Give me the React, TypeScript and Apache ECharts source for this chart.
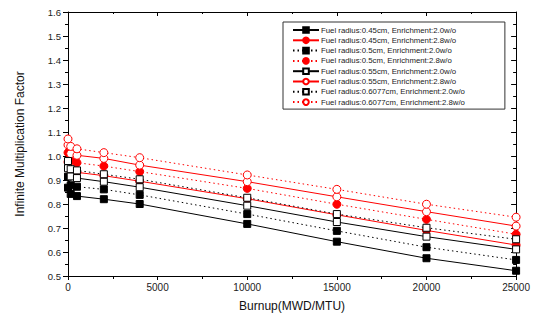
import React, { useEffect, useRef } from "react";
import * as echarts from "echarts";

const burnup = [0, 150, 500, 2000, 4000, 10000, 15000, 20000, 25000];
const seriesNames = [
  "Fuel radius:0.45cm, Enrichment:2.0w/o",
  "Fuel radius:0.45cm, Enrichment:2.8w/o",
  "Fuel radius:0.5cm, Enrichment:2.0w/o",
  "Fuel radius:0.5cm, Enrichment:2.8w/o",
  "Fuel radius:0.55cm, Enrichment:2.0w/o",
  "Fuel radius:0.55cm, Enrichment:2.8w/o",
  "Fuel radius:0.6077cm, Enrichment:2.0w/o",
  "Fuel radius:0.6077cm, Enrichment:2.8w/o",
];
const r045e20 = [0.868, 0.842, 0.833, 0.82, 0.8, 0.717, 0.643, 0.574, 0.522];
const r045e28 = [0.975, 0.94, 0.932, 0.918, 0.895, 0.822, 0.755, 0.69, 0.629];
const r050e20 = [0.914, 0.878, 0.872, 0.861, 0.838, 0.758, 0.688, 0.62, 0.567];
const r050e28 = [1.014, 0.98, 0.972, 0.958, 0.935, 0.865, 0.799, 0.736, 0.674];
const r055e20 = [0.949, 0.915, 0.908, 0.893, 0.87, 0.793, 0.725, 0.664, 0.611];
const r055e28 = [1.046, 1.01, 1.003, 0.99, 0.962, 0.893, 0.83, 0.768, 0.708];
const r061e20 = [0.979, 0.945, 0.94, 0.924, 0.903, 0.826, 0.758, 0.701, 0.653];
const r061e28 = [1.071, 1.04, 1.03, 1.014, 0.993, 0.921, 0.861, 0.799, 0.745];
const xTicks = [0, 5000, 10000, 15000, 20000, 25000];
const yMin = 0.5;
const yMax = 1.6;

const FONT = "Liberation Sans, Arial, sans-serif";

export default function App() {
  const ref = useRef<HTMLDivElement>(null);
  useEffect(() => {
    if (!ref.current) return;
    const chart = echarts.init(ref.current, undefined, { renderer: "svg" });
    const values = [r045e20, r045e28, r050e20, r050e28, r055e20, r055e28, r061e20, r061e28];
    const styles = [
      { color: "#000", type: "solid", symbol: "rect", fill: "#000", size: 7 },
      { color: "#ff0000", type: "solid", symbol: "circle", fill: "#ff0000", size: 8 },
      { color: "#000", type: [1.5, 3], symbol: "rect", fill: "#000", size: 7 },
      { color: "#ff0000", type: [1.5, 3], symbol: "circle", fill: "#ff0000", size: 8 },
      { color: "#000", type: "solid", symbol: "rect", fill: "#fff", size: 7 },
      { color: "#ff0000", type: "solid", symbol: "circle", fill: "#fff", size: 8 },
      { color: "#000", type: [1.5, 3], symbol: "rect", fill: "#fff", size: 7 },
      { color: "#ff0000", type: [1.5, 3], symbol: "circle", fill: "#fff", size: 8 },
    ];
    const series = values.map((v, i) => {
      const s = styles[i];
      return {
        name: seriesNames[i],
        type: "line",
        data: burnup.map((b, j) => [b, v[j]]),
        symbol: s.symbol,
        symbolSize: s.size,
        showAllSymbol: true,
        lineStyle: { color: s.color, width: 1, type: s.type },
        itemStyle: { color: s.fill, borderColor: s.color, borderWidth: 1 },
        emphasis: { disabled: true },
        z: 2 + i,
      };
    });
    chart.setOption({
      animation: false,
      textStyle: { fontFamily: FONT },
      grid: { left: 68, right: 15, top: 12, bottom: 51 },
      legend: {
        orient: "vertical",
        left: 283,
        top: 22,
        width: 221,
        padding: [4, 40, 3, 9],
        itemWidth: 26,
        itemHeight: 7,
        itemGap: 2.3,
        backgroundColor: "#fff",
        borderColor: "#333",
        borderWidth: 1,
        textStyle: { fontSize: 7.8, color: "#222", fontFamily: FONT, padding: [0, 0, 0, -3] },
        data: seriesNames,
      },
      xAxis: [
        {
          type: "value",
          min: 0,
          max: 25000,
          interval: 5000,
          name: "Burnup(MWD/MTU)",
          nameLocation: "middle",
          nameGap: 24,
          nameTextStyle: { fontSize: 12, color: "#111", fontFamily: FONT },
          axisLine: { show: true, lineStyle: { color: "#000", width: 1 } },
          axisTick: { show: true, inside: false, length: 4, lineStyle: { color: "#000" } },
          minorTick: { show: true, splitNumber: 2, length: 3, lineStyle: { color: "#000" } },
          axisLabel: {
            fontSize: 10,
            color: "#222",
            margin: 6,
            formatter: (v: number) => (xTicks.includes(v) ? String(v) : ""),
          },
          splitLine: { show: false },
        },
        {
          type: "value",
          position: "top",
          min: 0,
          max: 25000,
          interval: 5000,
          axisLine: { show: true, onZero: false, lineStyle: { color: "#000", width: 1 } },
          axisTick: { show: true, inside: true, length: 4, lineStyle: { color: "#000" } },
          minorTick: { show: true, splitNumber: 2, length: 2, lineStyle: { color: "#000" } },
          axisLabel: { show: false },
          splitLine: { show: false },
        },
      ],
      yAxis: [
        {
          type: "value",
          min: yMin,
          max: yMax,
          interval: 0.1,
          name: "Infinite Multiplication Factor",
          nameLocation: "middle",
          nameGap: 42,
          nameTextStyle: { fontSize: 12, color: "#111", fontFamily: FONT },
          axisLine: { show: true, lineStyle: { color: "#000", width: 1 } },
          axisTick: { show: true, inside: false, length: 5, lineStyle: { color: "#000" } },
          minorTick: { show: true, splitNumber: 2, length: 3, lineStyle: { color: "#000" } },
          axisLabel: {
            fontSize: 9.5,
            color: "#222",
            margin: 7,
            formatter: (v: number) => v.toFixed(1),
          },
          splitLine: { show: false },
        },
        {
          type: "value",
          position: "right",
          min: yMin,
          max: yMax,
          interval: 0.1,
          axisLine: { show: true, onZero: false, lineStyle: { color: "#000", width: 1 } },
          axisTick: { show: true, inside: true, length: 5, lineStyle: { color: "#000" } },
          minorTick: { show: true, splitNumber: 2, length: 3, lineStyle: { color: "#000" } },
          axisLabel: { show: false },
          splitLine: { show: false },
        },
      ],
      series,
    });
    return () => chart.dispose();
  }, []);
  return <div ref={ref} style={{ width: 533, height: 327, position: "absolute", left: 0, top: 0 }} />;
}
